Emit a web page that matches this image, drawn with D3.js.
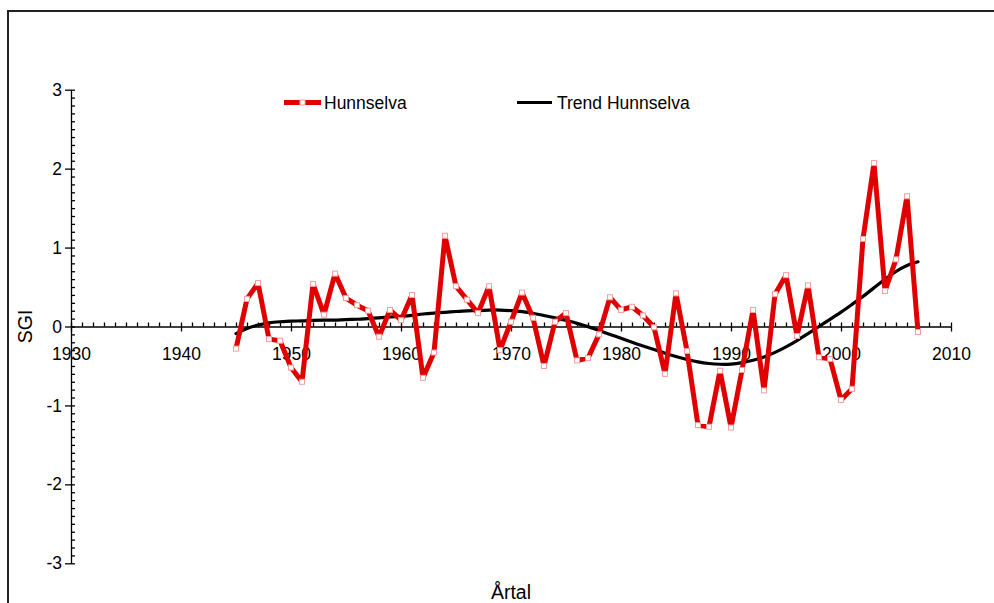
<!DOCTYPE html>
<html>
  <meta charset="utf-8">
  <head>
    <title>Hunnselva SGI</title>
  </head>
  <style>
    body { margin: 0; background: #fff; }
    svg { font-family: "Liberation Sans", Arial, sans-serif; }
    .axis path, .axis line { stroke: #000; stroke-width: 1.3; }
    .axis text { font-size: 17.5px; fill: #000; font-family: "Liberation Sans", Arial, sans-serif; }
  </style>
  <script src="https://d3js.org/d3.v7.min.js"></script>
  <body>
    <svg width="994" height="603"></svg>

    <script>
      // data
      var years = [1945, 1946, 1947, 1948, 1949, 1950, 1951, 1952, 1953, 1954,
                   1955, 1956, 1957, 1958, 1959, 1960, 1961, 1962, 1963, 1964,
                   1965, 1966, 1967, 1968, 1969, 1970, 1971, 1972, 1973, 1974,
                   1975, 1976, 1977, 1978, 1979, 1980, 1981, 1982, 1983, 1984,
                   1985, 1986, 1987, 1988, 1989, 1990, 1991, 1992, 1993, 1994,
                   1995, 1996, 1997, 1998, 1999, 2000, 2001, 2002, 2003, 2004,
                   2005, 2006, 2007];

      var hunnselva = [-0.28, 0.35, 0.55, -0.16, -0.18, -0.52, -0.70, 0.54, 0.15, 0.67,
                       0.36, 0.27, 0.20, -0.13, 0.21, 0.08, 0.40, -0.65, -0.33, 1.15,
                       0.51, 0.34, 0.17, 0.51, -0.30, 0.06, 0.43, 0.11, -0.50, 0.06,
                       0.17, -0.43, -0.40, -0.10, 0.37, 0.21, 0.25, 0.14, -0.01, -0.60,
                       0.42, -0.31, -1.25, -1.27, -0.56, -1.28, -0.55, 0.21, -0.81, 0.41,
                       0.65, -0.12, 0.52, -0.39, -0.41, -0.93, -0.79, 1.11, 2.07, 0.45,
                       0.85, 1.65, -0.07];

      var trend = [-0.09, -0.02, 0.02, 0.05, 0.06, 0.07, 0.07, 0.08, 0.08, 0.08,
                   0.09, 0.09, 0.10, 0.11, 0.12, 0.13, 0.14, 0.16, 0.17, 0.18,
                   0.19, 0.20, 0.20, 0.21, 0.21, 0.20, 0.19, 0.17, 0.14, 0.11,
                   0.08, 0.04, 0.00, -0.05, -0.10, -0.15, -0.20, -0.25, -0.29, -0.34,
                   -0.38, -0.42, -0.45, -0.47, -0.48, -0.48, -0.46, -0.43, -0.39, -0.33,
                   -0.26, -0.18, -0.09, 0.00, 0.09, 0.18, 0.28, 0.38, 0.49, 0.60,
                   0.70, 0.78, 0.82];

      var xTicks = [1930, 1940, 1950, 1960, 1970, 1980, 1990, 2000, 2010];
      var yTicks = [-3, -2, -1, 0, 1, 2, 3];

      var seriesNames = ["Hunnselva", "Trend Hunnselva"];

      var svg = d3.select("svg");
      var red = "#e00000";

      // outer frame
      svg.append("rect")
          .attr("x", 8).attr("y", 11)
          .attr("width", 1100).attr("height", 700)
          .attr("fill", "none")
          .attr("stroke", "#222")
          .attr("stroke-width", 2);

      var x = d3.scaleLinear().domain([1930, 2010]).range([71, 951]);
      var y = d3.scaleLinear().domain([-3, 3]).range([563.3, 89.7]);

      // x axis: major ticks down with labels, minor ticks up
      svg.append("g")
          .attr("class", "axis")
          .attr("transform", "translate(0," + y(0) + ")")
          .call(d3.axisBottom(x).tickValues(xTicks).tickSize(5).tickPadding(16)
                .tickSizeOuter(0).tickFormat(d3.format("d")));

      svg.append("g")
          .attr("class", "axis")
          .attr("transform", "translate(0," + y(0) + ")")
          .call(d3.axisTop(x).tickValues(d3.range(1930, 2011, 1)).tickSize(4)
                .tickSizeOuter(0).tickFormat(""))
        .select(".domain").remove();

      // y axis: major ticks left with labels, minor ticks right
      svg.append("g")
          .attr("class", "axis")
          .attr("transform", "translate(" + x(1930) + ",0)")
          .call(d3.axisLeft(y).tickValues(yTicks).tickSize(6).tickPadding(3)
                .tickSizeOuter(0).tickFormat(d3.format("d")));

      svg.append("g")
          .attr("class", "axis")
          .attr("transform", "translate(" + x(1930) + ",0)")
          .call(d3.axisRight(y).tickValues(d3.range(-30, 31).map(function(d) { return d / 10; }))
                .tickSize(4).tickSizeOuter(0).tickFormat(""))
        .select(".domain").remove();

      // plain hyphen for negative labels
      svg.selectAll(".axis text").text(function() { return this.textContent.replace("\u2212", "-"); });

      // axis titles
      svg.append("text")
          .attr("transform", "translate(32," + y(0) + ") rotate(-90)")
          .attr("text-anchor", "middle")
          .attr("font-size", 19.5)
          .text("SGI");

      svg.append("text")
          .attr("x", (x(1930) + x(2010)) / 2)
          .attr("y", 599)
          .attr("text-anchor", "middle")
          .attr("font-size", 19.5)
          .text("Årtal");

      var pts = years.map(function(d, i) { return { year: d, v: hunnselva[i], t: trend[i] }; });

      // trend line
      svg.append("path")
          .datum(pts)
          .attr("fill", "none")
          .attr("stroke", "#000")
          .attr("stroke-width", 3.2)
          .attr("stroke-linecap", "round")
          .attr("d", d3.line()
              .curve(d3.curveBasis)
              .x(function(d) { return x(d.year); })
              .y(function(d) { return y(d.t); }));

      // observed series
      svg.append("path")
          .datum(pts)
          .attr("fill", "none")
          .attr("stroke", red)
          .attr("stroke-width", 5)
          .attr("stroke-linejoin", "round")
          .attr("d", d3.line()
              .x(function(d) { return x(d.year); })
              .y(function(d) { return y(d.v); }));

      svg.append("g")
        .selectAll("rect")
        .data(pts)
        .enter().append("rect")
          .attr("x", function(d) { return x(d.year) - 2.5; })
          .attr("y", function(d) { return y(d.v) - 2.5; })
          .attr("width", 5)
          .attr("height", 5)
          .attr("fill", "#fff")
          .attr("stroke", "#f4a0a0")
          .attr("stroke-width", 1);

      // legend
      var lg = svg.append("g");
      lg.append("line")
          .attr("x1", 284).attr("x2", 321).attr("y1", 102.5).attr("y2", 102.5)
          .attr("stroke", red).attr("stroke-width", 5);
      lg.append("rect")
          .attr("x", 300).attr("y", 100).attr("width", 5).attr("height", 5)
          .attr("fill", "#fff").attr("stroke", "#f4a0a0").attr("stroke-width", 1);
      lg.append("text")
          .attr("x", 324).attr("y", 108.5)
          .attr("font-size", 17.5)
          .text(seriesNames[0]);

      lg.append("line")
          .attr("x1", 517).attr("x2", 552).attr("y1", 102.5).attr("y2", 102.5)
          .attr("stroke", "#000").attr("stroke-width", 3);
      lg.append("text")
          .attr("x", 557).attr("y", 108.5)
          .attr("font-size", 17.5)
          .text(seriesNames[1]);
    </script>
  </body>
</html>
